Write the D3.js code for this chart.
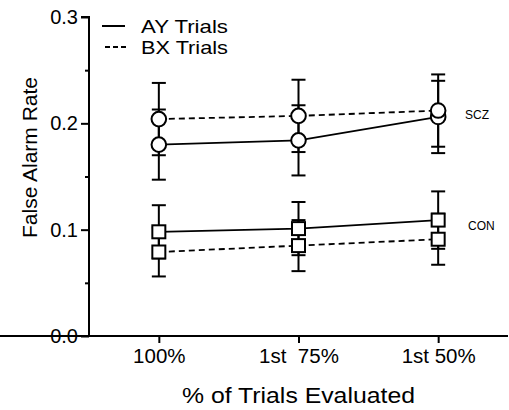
<!DOCTYPE html>
<html><head><meta charset="utf-8">
<script src="https://cdn.jsdelivr.net/npm/d3@7"></script>
<style>
body{margin:0;background:#fff;}
svg{display:block;font-family:"Liberation Sans",Arial,sans-serif;}
text{white-space:pre;}
</style></head>
<body><svg id="c" width="509" height="410"></svg>
<script>
const categories = ["100%", "1st  75%", "1st 50%"];
const sczAY = [0.180, 0.184, 0.206];
const sczAYErr = [0.033, 0.033, 0.034];
const sczBX = [0.204, 0.207, 0.212];
const sczBXErr = [0.034, 0.034, 0.034];
const conAY = [0.098, 0.101, 0.109];
const conAYErr = [0.025, 0.025, 0.027];
const conBX = [0.079, 0.085, 0.091];
const conBXErr = [0.023, 0.024, 0.024];
const yMajorTicks = [0, 0.1, 0.2, 0.3];
const yMinorTicks = [0.05, 0.15, 0.25];
const legendLabels = ["AY Trials", "BX Trials"];
const groupLabels = ["SCZ", "CON"];

const svg = d3.select("#c");
const x = d3.scaleLinear().domain([-0.5, 2.5]).range([89, 508]);
const y = d3.scaleLinear().domain([0, 0.3]).range([336, 17]);

// axes
const yAx = svg.append("g").attr("transform", "translate(89,0)")
  .call(d3.axisLeft(y).tickValues(yMajorTicks).tickSize(8).tickPadding(3).tickFormat(d3.format(".1f")));
const yMin = svg.append("g").attr("transform", "translate(89,0)")
  .call(d3.axisLeft(y).tickValues(yMinorTicks).tickSize(4).tickFormat(""));
const xAx = svg.append("g").attr("transform", "translate(0,336)")
  .call(d3.axisBottom(x).tickValues([0,1,2]).tickSize(7).tickPadding(5).tickFormat(i => categories[i]));
[yAx, yMin, xAx].forEach(g => {
  g.selectAll("path.domain").attr("stroke", "#000").attr("stroke-width", 2);
  g.selectAll(".tick line").attr("stroke", "#000").attr("stroke-width", 2);
  g.selectAll("text").attr("fill", "#000").style("font-family", "Liberation Sans, Arial, sans-serif");
});
yAx.selectAll("path.domain").attr("d", `M-8,${y(0.3)}H0V${y(0)}`);
yMin.selectAll("path.domain").remove();
xAx.selectAll("path.domain").attr("d", `M0,0H508`);
yAx.selectAll("text").style("font-size", "20px");
xAx.selectAll("text").style("font-size", "20.5px");

// axis titles
svg.append("text").attr("transform", "translate(37,157.5) rotate(-90)")
  .attr("text-anchor", "middle").style("font-size", "21px").text("False Alarm Rate");
svg.append("text").attr("x", 298.5).attr("y", 403)
  .attr("text-anchor", "middle").style("font-size", "22px")
  .attr("textLength", 233).attr("lengthAdjust", "spacingAndGlyphs").text("% of Trials Evaluated");

const series = [
  {v: sczAY, e: sczAYErr, dash: null, shape: "circle"},
  {v: sczBX, e: sczBXErr, dash: "6,4", shape: "circle"},
  {v: conAY, e: conAYErr, dash: null, shape: "square"},
  {v: conBX, e: conBXErr, dash: "6,4", shape: "square"}
];
const line = d3.line().x((d, i) => x(i)).y(d => y(d));

// error bars
series.forEach(s => {
  const g = svg.append("g").attr("stroke", "#000").attr("stroke-width", 2);
  s.v.forEach((v, i) => {
    const cx = x(i);
    g.append("line").attr("x1", cx).attr("x2", cx).attr("y1", y(v - s.e[i])).attr("y2", y(v + s.e[i]));
    [v - s.e[i], v + s.e[i]].forEach(t => g.append("line").attr("x1", cx - 7).attr("x2", cx + 7).attr("y1", y(t)).attr("y2", y(t)));
  });
});
// lines
series.forEach(s => {
  svg.append("path").attr("d", line(s.v)).attr("fill", "none").attr("stroke", "#000")
    .attr("stroke-width", 1.8).attr("stroke-dasharray", s.dash);
});
// markers
series.forEach(s => {
  s.v.forEach((v, i) => {
    if (s.shape === "circle") {
      svg.append("circle").attr("cx", x(i)).attr("cy", y(v)).attr("r", 7.3)
        .attr("fill", "#fff").attr("stroke", "#000").attr("stroke-width", 2);
    } else {
      svg.append("rect").attr("x", x(i) - 6.5).attr("y", y(v) - 6.5).attr("width", 13).attr("height", 13)
        .attr("fill", "#fff").attr("stroke", "#000").attr("stroke-width", 2);
    }
  });
});

// group labels
svg.append("text").attr("x", 465).attr("y", 119).style("font-size", "12px").text(groupLabels[0]);
svg.append("text").attr("x", 468).attr("y", 230).style("font-size", "12px").text(groupLabels[1]);

// legend
svg.append("line").attr("x1", 102).attr("x2", 125).attr("y1", 26).attr("y2", 26).attr("stroke", "#000").attr("stroke-width", 2);
svg.append("line").attr("x1", 105).attr("x2", 127).attr("y1", 47).attr("y2", 47).attr("stroke", "#000").attr("stroke-width", 1.8).attr("stroke-dasharray", "5,3");
svg.append("text").attr("x", 141).attr("y", 32.5).style("font-size", "19px")
  .attr("textLength", 87).attr("lengthAdjust", "spacingAndGlyphs").text(legendLabels[0]);
svg.append("text").attr("x", 141).attr("y", 54).style("font-size", "19px")
  .attr("textLength", 87).attr("lengthAdjust", "spacingAndGlyphs").text(legendLabels[1]);
</script></body></html>
